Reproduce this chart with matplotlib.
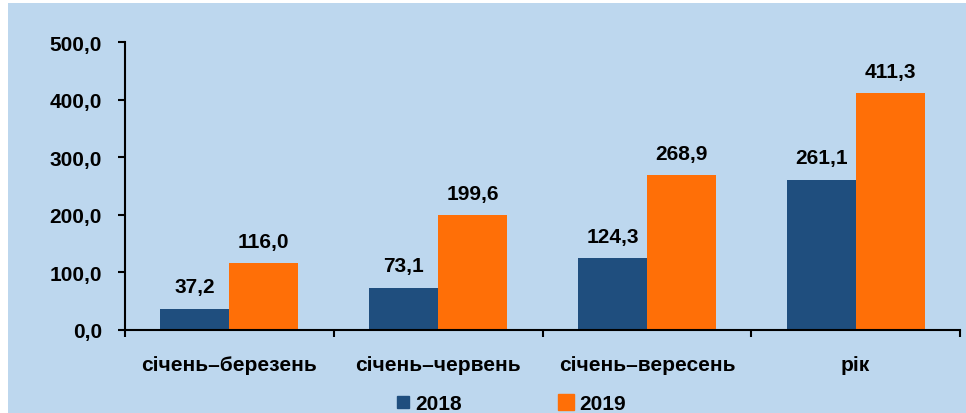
import matplotlib.pyplot as plt
import numpy as np
from matplotlib.patches import Rectangle
from matplotlib.lines import Line2D

categories = ['січень–березень', 'січень–червень', 'січень–вересень', 'рік']
values_2018 = [37.2, 73.1, 124.3, 261.1]
values_2019 = [116.0, 199.6, 268.9, 411.3]
series_names = ['2018', '2019']
yticks = [0, 100, 200, 300, 400, 500]

blue = '#1F4E7E'
orange = '#FF6F07'
bg = '#BDD7EE'
fs = 15

plt.rcParams['font.family'] = ['Liberation Sans', 'DejaVu Sans']
plt.rcParams['font.weight'] = 'bold'

fig = plt.figure(figsize=(9.66, 4.14), dpi=100)
fig.patch.set_facecolor('white')
fig.patches.append(Rectangle((8 / 966, 0), 1, 1 - 4 / 414, transform=fig.transFigure,
                             facecolor=bg, edgecolor='none', zorder=-1))

ax = fig.add_axes([125 / 966, (414 - 331) / 414, 835 / 966, 288 / 414])
ax.set_facecolor('none')

x = np.arange(len(categories))
w = 0.33
b1 = ax.bar(x - w / 2, values_2018, w, color=blue)
b2 = ax.bar(x + w / 2, values_2019, w, color=orange)

for bars, vals in ((b1, values_2018), (b2, values_2019)):
    for rect, v in zip(bars, vals):
        ax.annotate(f'{v:.1f}'.replace('.', ','),
                    (rect.get_x() + rect.get_width() / 2, rect.get_height()),
                    xytext=(0, 9), textcoords='offset points',
                    ha='center', va='bottom', fontsize=fs, fontweight='bold')

ax.set_xlim(-0.5, len(categories) - 0.5)
ax.set_ylim(0, 500)
ax.set_yticks(yticks)
ax.set_yticklabels([f'{t:.1f}'.replace('.', ',') for t in yticks])
ax.set_xticks(x)
ax.set_xticklabels(categories)
ax.set_xticks(np.arange(len(categories) + 1) - 0.5, minor=True)
ax.tick_params(axis='x', which='major', length=0, pad=18, labelsize=fs)
ax.tick_params(axis='x', which='minor', length=5, width=1.5, direction='out')
ax.tick_params(axis='y', length=5, width=1.5, labelsize=fs, pad=11.5)
for lbl in ax.get_xticklabels() + ax.get_yticklabels():
    lbl.set_fontweight('bold')

for s in ('top', 'right'):
    ax.spines[s].set_visible(False)
for s in ('left', 'bottom'):
    ax.spines[s].set_linewidth(1.5)

handles = [Line2D([], [], marker='s', linestyle='none', color=blue, markersize=8),
           Line2D([], [], marker='s', linestyle='none', color=orange, markersize=12)]
leg = fig.legend(handles, series_names, loc='center', bbox_to_anchor=(0.527, 0.022),
                 ncol=2, frameon=False, handletextpad=0.1, columnspacing=4.5,
                 handlelength=1.0, prop={'weight': 'bold', 'size': fs})

fig.savefig('out.png', dpi=100)
